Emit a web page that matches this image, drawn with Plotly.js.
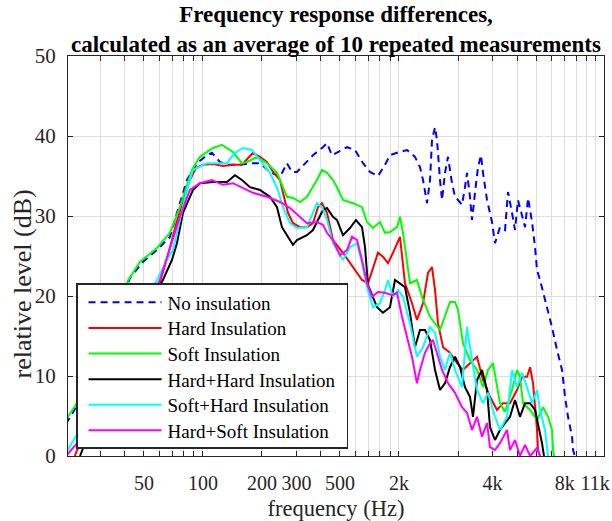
<!DOCTYPE html>
<html>
<head>
<meta charset="utf-8">
<script src="https://cdn.plot.ly/plotly-3.0.1.min.js"></script>
<style>html,body{margin:0;padding:0;background:#fff}#chart{width:612px;height:521px}</style>
</head>
<body>
<div id="chart"></div>
<script>
// ---- data (frequency in Hz, level in dB) ----
const seriesNames = ['No insulation','Hard Insulation','Soft Insulation','Hard+Hard Insulation','Soft+Hard Insulation','Hard+Soft Insulation'];

const fNone = [20,29.8,42.4,49.4,58.3,67.9,73.7,82.9,93.2,104.8,111.1,122.1,132.6,154.4,173.7,195.3,219.7,247.2,268.3,284.5,301.7,339.3,364.1,409.5,429.4,455.1,482.7,542.9,596.3,655.3,711.2,781.5,848.4,899.6,976.8,1098,1206,1250,1280,1326,1390,1440,1474,1527,1563,1619,1658,1717,1778,1864,1931,2000,2096,2171,2223,2302,2357,2442,2530,2620,2683,2812,2982,3088,3275,3474,3598,3771,3906,4046,4243,4396,4553,4771,4943,5059,5241,5689,6033,6400,6787,7030,7282,7633,7723,7900];
const dbNone = [4.0,11.0,22.25,24.25,25.75,27.4,30.4,34.5,36.6,37.6,37.9,36.75,36.4,36.4,36.6,36.6,35.5,34.9,36.6,35.5,35.5,36.75,37.6,38.6,39.1,37.6,37.9,38.6,38.25,36.6,35.5,35.0,36.4,37.6,37.9,38.25,37.4,36.6,36.1,34.5,31.6,34.5,39.5,41.1,39.5,34.5,32.0,35.4,37.4,34.1,32.4,32.0,31.4,33.6,35.4,32.4,29.5,32.9,36.1,37.6,35.4,32.0,29.25,26.6,28.6,28.25,33.0,30.4,28.25,32.0,29.9,28.6,32.25,29.25,26.1,23.25,22.0,18.6,16.1,13.25,10.75,7.4,4.9,2.4,0.75,0];

const fHard = [22.2,29.8,42.4,53.7,60.3,66.3,72.8,80.0,85.8,92.1,100,112.5,126.5,142.2,158.1,169.7,180,195.3,212.1,227.6,247.2,256,271.5,287.9,312.5,339.3,364.1,386.1,404.7,429.4,460.5,518,582.5,647.7,694.9,736.7,781.5,828.7,878.9,932,1012,1073,1165,1235,1326,1406,1474,1527,1581,1677,1820,1977,2121,2302,2500,2683,2913,3162,3393,3684,3999,4243,4500,4662,4828,5059,5119,5241];
const dbHard = [0,8,15.5,19.5,21.75,25.1,28.9,32.4,34.5,36.0,36.4,36.5,36.25,36.4,36.4,37.25,37.9,37.4,36.75,35.5,34.5,32.9,30.4,29.1,28.6,28.6,29.1,31.1,31.6,30.4,27.0,25.4,23.6,22.0,21.6,23.6,25.4,24.9,24.1,25.4,27.4,21.6,19.1,17.0,19.1,22.9,23.6,20.75,16.6,13.6,12.9,11.6,10.75,11.6,12.4,9.5,7.4,5.75,6.6,6.6,8.25,9.9,9.9,11.1,9.1,3.25,0.75,0];

const fSoft = [20,29.8,41.4,47.7,58.3,67.9,76.3,87.9,96.5,112.5,125,142.2,158.1,167.7,188.6,212.1,238.6,256,268.3,287.9,312.5,339.3,381.6,404.7,429.4,460.5,482.7,518,582.5,647.7,686.8,736.7,800,848.4,899.6,976.8,1012,1048,1138,1235,1310,1440,1619,1820,1931,2000,2121,2302,2500,2683,2845,3017,3162,3275,3474,3771,3999,4142,4294,4662,5059,5429,5756,6033,6105,6178];
const dbSoft = [4.5,11,21.9,24.25,26.0,27.9,31.1,35.75,37.4,38.5,38.9,38.0,36.6,36.75,37.4,36.6,35.4,33.6,32.4,32.25,31.75,32.4,34.5,35.75,35.4,34.5,33.6,32.0,31.6,31.1,29.25,28.5,29.25,27.9,28.0,28.6,29.9,27.9,21.6,22.0,19.9,17.4,15.75,19.25,19.25,18.25,14.1,12.0,10.75,8.6,10.75,11.6,8.6,6.6,5.5,8.25,10.75,9.9,6.6,5.75,4.5,6.1,4.9,3.25,0.75,0];

const fHardHard = [23.6,33.5,47.7,62.5,69.5,73.7,79.1,88.9,96.5,112.5,132.6,145.7,158.1,173.7,195.3,219.7,238.6,253,277.9,287.9,301.7,339.3,364.1,409.5,429.4,460.5,482.7,518,562.3,603.4,647.7,670.9,694.9,772.3,828.7,899.6,954.1,1012,1073,1138,1206,1280,1357,1440,1527,1619,1717,1820,1931,2048,2171,2302,2385,2500,2651,2812,2913,3088,3275,3474,3684,3906,4142,4396,4662,4943,5119,5365,5429,5494];
const dbHardHard = [0,9.5,17,22.0,24.5,26.6,30.4,33.25,34.1,34.25,34.25,35.1,34.5,33.6,33.25,32.4,31.1,28.6,27.0,26.4,27.0,27.6,28.25,30.75,31.0,29.9,29.5,27.6,28.5,29.5,28.6,26.1,21.4,18.6,17.9,18.6,22.0,21.6,21.1,17.9,13.6,15.75,15.75,14.5,10.75,8.25,9.1,11.1,12.4,11.1,8.6,7.4,4.9,9.5,10.75,8.25,3.6,2.0,3.25,4.1,4.9,7.0,4.9,6.6,6.6,5.75,4.1,1.6,0.75,0];

const fSoftHard = [20,23.6,33.5,47.7,58.3,65.5,70.3,73.7,82.9,88.9,104.8,117.9,132.6,145.7,160,177.8,195.3,219.7,241.4,256,277.9,301.7,339.3,364.1,381.6,404.7,429.4,460.5,482.7,518,562.3,610.5,647.7,686.8,736.7,800,848.4,878.9,932,988.3,1048,1138,1235,1326,1440,1527,1619,1717,1820,1931,2096,2223,2302,2500,2683,2845,3088,3275,3556,3771,3999,4243,4500,4771,5059,5241,5557,5689,5756];
const dbSoftHard = [0.4,3.25,10.75,18.25,22.0,24.5,25.75,27.9,33.25,35.75,36.6,36.6,36.6,37.9,38.5,38.25,37.0,35.4,33.25,31.1,29.1,28.5,28.6,30.4,31.6,31.1,29.5,26.6,25.75,24.5,26.1,26.6,24.1,21.1,18.6,19.1,20.75,22.0,19.9,20.75,19.9,16.6,12.4,13.6,16.1,15.4,12.4,10.75,12.9,10.75,8.6,16.1,13.6,8.25,6.6,7.9,4.9,3.25,4.9,10.75,8.6,10.4,8.6,6.6,8.25,5.75,3.25,0.75,0];

const fHardSoft = [20,23.6,33.5,47.7,60.3,67.9,76.3,85.8,96.5,111.1,126.5,142.2,158.1,180,212.1,247.2,277.9,312.5,339.3,381.6,409.5,429.4,460.5,500,542.9,575.7,610.5,647.7,686.8,728.1,781.5,848.4,921.1,976.8,1036,1098,1165,1235,1280,1357,1440,1491,1563,1658,1778,1931,2096,2223,2357,2500,2651,2812,2913,3088,3275,3556,3684,3906,4142,4396,4662,5059,5241];
const dbHardSoft = [0,2.0,9,17,22.0,26.1,29.9,33.25,34.1,34.5,33.9,34.1,33.6,32.9,32.4,31.75,31.0,29.9,29.1,29.25,28.9,27.9,27.0,25.1,25.75,27.4,27.0,24.5,21.6,19.9,20.5,20.4,20.1,20.4,17.4,14.9,12.4,9.1,10.75,12.9,14.1,14.5,12.9,10.75,9.1,7.9,6.1,5.4,3.25,4.9,2.4,4.1,1.1,0.75,1.6,3.25,0.75,2.0,0,1.4,0,1.0,0];

const xTickVals = [50,100,200,300,500,1000,3000,7000,10000];
const xTickText = ['50','100','200','300','500','2k','4k','8k','11k'];
const xGridVals = [20,30,40,50,60,70,80,90,100,200,300,400,500,600,700,800,900,1000,2000,3000,4000,5000,6000,7000,8000,9000,10000];
const yTickVals = [0,10,20,30,40,50];

// ---- styles ----
const colors = ['#0000ff','#ff0000','#00ff00','#000000','#00ffff','#ff00ff'];
const xs = [fNone,fHard,fSoft,fHardHard,fSoftHard,fHardSoft];
const ys = [dbNone,dbHard,dbSoft,dbHardHard,dbSoftHard,dbHardSoft];

const traces = seriesNames.map((n,i)=>({
  x: xs[i], y: ys[i], name: n, type:'scatter', mode:'lines',
  line:{color:colors[i], width:2, dash: i===0 ? '7px,5px' : 'solid'}
}));

const serif = 'Liberation Serif, Times New Roman, serif';
const axisCol = '#262626';
const gridCol = '#dedede';

const layout = {
  width:612, height:521,
  margin:{l:68, r:8, t:56, b:65},
  paper_bgcolor:'#ffffff', plot_bgcolor:'#ffffff',
  font:{family:serif, color:axisCol, size:20},
  title:{text:'<b>Frequency response differences,<br>calculated as an average of 10 repeated measurements</b>',
         font:{family:serif, size:23, color:'#000'}, x:0.5, xref:'paper', y:0.958, yref:'container', yanchor:'top'},
  showlegend:true,
  legend:{x:0.015, y:0.4325, xanchor:'left', yanchor:'top', bgcolor:'#ffffff',
          bordercolor:axisCol, borderwidth:1.5, font:{family:serif, size:19, color:'#000'},
          itemwidth:80, tracegroupgap:0},
  annotations:[{text:'relative level (dB)', textangle:-90, xref:'paper', yref:'paper',
                x:-0.085, y:0.43, xanchor:'center', yanchor:'middle', showarrow:false,
                font:{family:serif, size:26, color:axisCol}}],
  xaxis:{type:'log', range:[Math.log10(20.5), Math.log10(11110)],
         tickmode:'array', tickvals:xTickVals, ticktext:xTickText,
         ticks:'inside', ticklen:5, tickwidth:1, tickcolor:axisCol, ticklabelstandoff:9,
         showgrid:true, gridcolor:gridCol, gridwidth:1,
         minor:{tickmode:'array', tickvals:xGridVals, ticks:'inside', ticklen:5, tickcolor:axisCol, showgrid:true, gridcolor:gridCol, gridwidth:1},
         showline:true, linecolor:axisCol, linewidth:1, mirror:'ticks', zeroline:false,
         tickfont:{family:serif, size:20, color:axisCol},
         title:{text:'frequency (Hz)', font:{family:serif, size:22.5, color:axisCol}, standoff:12}},
  yaxis:{range:[0,50], tickmode:'array', tickvals:yTickVals,
         ticks:'inside', ticklen:5, tickwidth:1, tickcolor:axisCol, ticklabelstandoff:7,
         showgrid:true, gridcolor:gridCol, gridwidth:1,
         showline:true, linecolor:axisCol, linewidth:1, mirror:'ticks', zeroline:false,
         tickfont:{family:serif, size:21, color:axisCol}}
};

Plotly.newPlot('chart', traces, layout, {displayModeBar:false, staticPlot:true}).then(gd=>{
  // legend: longer line samples, tighter row spacing and a slightly wider box, as in the reference
  gd.querySelectorAll('.legend .legendlines path').forEach(p=>p.setAttribute('d','M11,0h73'));
  const items = [...gd.querySelectorAll('.legend .traces')];
  const re = /translate\(\s*([-\d.e]+)[ ,]+([-\d.e]+)\s*\)/;
  const pos = items.map(el=>{const m = re.exec(el.getAttribute('transform')||''); return m ? [parseFloat(m[1]), parseFloat(m[2])] : null;});
  if (pos.every(p=>p) && pos.length > 1) {
    const step = 25.6, d0 = pos[1][1]-pos[0][1];
    items.forEach((el,i)=>el.setAttribute('transform','translate('+pos[i][0]+','+(pos[0][1]-1+i*step)+')'));
    const bg = gd.querySelector('.legend .bg');
    if (bg) {
      const h = parseFloat(bg.getAttribute('height')); bg.setAttribute('height', h-(d0-step)*(items.length-1)-4);
      const w = parseFloat(bg.getAttribute('width')); bg.setAttribute('width', w+6);
    }
  }
});
</script>
</body>
</html>
